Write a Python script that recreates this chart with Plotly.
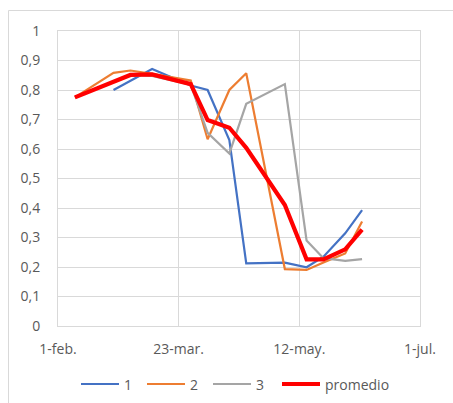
import plotly.graph_objects as go

# Sampling dates of the three series and their average
fechas = ["2021-02-08", "2021-02-24", "2021-03-03", "2021-03-12", "2021-03-28",
          "2021-04-04", "2021-04-13", "2021-04-20", "2021-05-06", "2021-05-15",
          "2021-05-22", "2021-05-31", "2021-06-07"]

serie_1 = [None, 0.800, None, 0.871, 0.815, 0.800, 0.630, 0.212, 0.215, 0.199,
           0.235, 0.314, 0.393]
serie_2 = [0.775, 0.858, 0.866, 0.855, 0.832, 0.633, 0.800, 0.857, 0.193, 0.190,
           0.215, 0.246, 0.354]
serie_3 = [0.775, 0.828, 0.850, 0.848, 0.818, 0.655, 0.585, 0.753, 0.820, 0.290,
           0.230, 0.221, 0.227]
promedio = [0.775, 0.828, 0.851, 0.853, 0.820, 0.698, 0.672, 0.604, 0.410, 0.226,
            0.226, 0.260, 0.327]

nombres = ["1", "2", "3", "promedio"]
colores = ["#4472C4", "#ED7D31", "#A5A5A5", "#FF0000"]
anchos = [2.2, 2.2, 2.2, 4.2]

x_ticks = ["2021-02-01", "2021-03-23", "2021-05-12", "2021-07-01"]
x_labels = ["1-feb.", "23-mar.", "12-may.", "1-jul."]
y_ticks = [0, 0.1, 0.2, 0.3, 0.4, 0.5, 0.6, 0.7, 0.8, 0.9, 1.0]
y_labels = ["0", "0,1", "0,2", "0,3", "0,4", "0,5", "0,6", "0,7", "0,8", "0,9", "1"]

FONT = "Open Sans"
GRID = "#d9d9d9"
TXT = "#595959"

W, H = 453, 403
L, R, T, B = 58, 33, 31, 77
pw, ph = W - L - R, H - T - B


def px_x(p):
    return (p - L) / pw


def px_y(p):
    return (T + ph - p) / ph


fig = go.Figure()
for nombre, vals, color, ancho in zip(nombres, [serie_1, serie_2, serie_3, promedio],
                                      colores, anchos):
    fig.add_trace(go.Scatter(
        x=fechas, y=vals, name=nombre, mode="lines", connectgaps=True,
        line=dict(color=color, width=ancho), showlegend=False,
    ))

# Outer chart frame: only its top and left edges fall inside the page
shapes = [
    dict(type="line", xref="paper", yref="paper",
         x0=px_x(8.5), x1=px_x(W), y0=px_y(10.5), y1=px_y(10.5),
         line=dict(color=GRID, width=1), layer="below"),
    dict(type="line", xref="paper", yref="paper",
         x0=px_x(8.5), x1=px_x(8.5), y0=px_y(10.5), y1=px_y(H),
         line=dict(color=GRID, width=1), layer="below"),
]
annotations = []

# Legend row below the axis: a line sample followed by its label
leg_y = 384
leg_x = [81, 147, 213, 282]
for x0, nombre, color, ancho in zip(leg_x, nombres, colores, anchos):
    shapes.append(dict(
        type="line", xref="paper", yref="paper",
        x0=px_x(x0), x1=px_x(x0 + 38), y0=px_y(leg_y), y1=px_y(leg_y),
        line=dict(color=color, width=ancho),
    ))
    annotations.append(dict(
        xref="paper", yref="paper", x=px_x(x0 + 41), y=px_y(leg_y),
        xanchor="left", yanchor="middle", text=nombre, showarrow=False,
        font=dict(family=FONT, size=14, color=TXT),
    ))

fig.update_layout(
    width=W, height=H,
    margin=dict(l=L, r=R, t=T, b=B, autoexpand=False),
    paper_bgcolor="white", plot_bgcolor="white",
    font=dict(family=FONT, size=14, color=TXT),
    showlegend=False,
    xaxis=dict(
        type="date", range=[x_ticks[0], x_ticks[-1]],
        tickmode="array", tickvals=x_ticks, ticktext=x_labels,
        showgrid=True, gridcolor=GRID, gridwidth=1,
        showline=True, linecolor=GRID, linewidth=1, mirror=True,
        zeroline=False, ticks="", ticklabelstandoff=10,
    ),
    yaxis=dict(
        range=[0, 1], tickmode="array", tickvals=y_ticks, ticktext=y_labels,
        showgrid=True, gridcolor=GRID, gridwidth=1,
        showline=True, linecolor=GRID, linewidth=1, mirror=True,
        zeroline=False, ticks="", ticklabelstandoff=14,
    ),
    shapes=shapes,
    annotations=annotations,
)

fig.write_html("out.html")
